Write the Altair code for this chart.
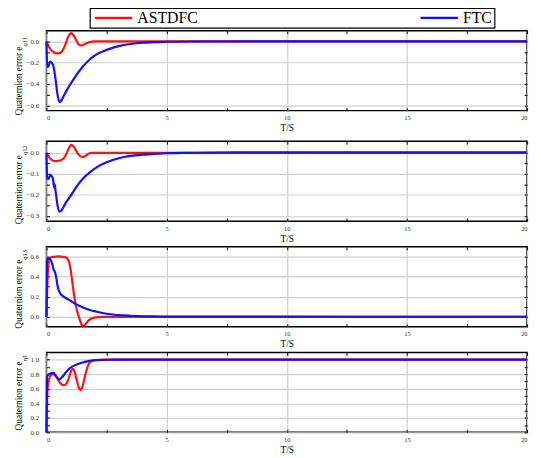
import altair as alt
import pandas as pd

SERIES = ["ASTDFC", "FTC"]
COLORS = ["#ff1010", "#1010ff"]

# ---------------- Panel 1 : e_q11 ----------------
t_astdfc_q11 = [0, 0.1, 0.25, 0.4, 0.5, 0.6, 0.75, 0.9, 1.02, 1.12, 1.25, 1.35, 1.46, 1.6, 1.8, 2.0, 3.0, 20]
v_astdfc_q11 = [0, -0.05, -0.095, -0.11, -0.112, -0.105, -0.05, 0.04, 0.078, 0.06, 0.005, -0.03, -0.038, -0.025, -0.006, 0, 0, 0]
t_ftc_q11 = [0, 0.03, 0.08, 0.16, 0.22, 0.3, 0.38, 0.46, 0.54, 0.62, 0.72, 0.85, 1.0, 1.2, 1.5, 1.8, 2.1, 2.5, 3.0, 3.5, 4.0, 4.5, 5.0, 6.0, 20]
v_ftc_q11 = [0, -0.24, -0.235, -0.19, -0.2, -0.24, -0.36, -0.5, -0.57, -0.555, -0.51, -0.455, -0.4, -0.33, -0.24, -0.17, -0.12, -0.08, -0.045, -0.025, -0.013, -0.007, -0.004, -0.001, 0]

# ---------------- Panel 2 : e_q12 ----------------
t_astdfc_q12 = [0, 0.1, 0.2, 0.37, 0.5, 0.6, 0.7, 0.8, 0.9, 1.03, 1.15, 1.3, 1.49, 1.62, 1.75, 1.87, 2.2, 20]
v_astdfc_q12 = [0, -0.02, -0.033, -0.04, -0.038, -0.035, -0.028, -0.012, 0.014, 0.038, 0.027, -0.003, -0.02, -0.015, -0.004, 0, 0, 0]
t_ftc_q12 = [0, 0.03, 0.08, 0.16, 0.24, 0.28, 0.31, 0.34, 0.37, 0.4, 0.46, 0.55, 0.62, 0.72, 0.85, 1.0, 1.2, 1.5, 1.8, 2.1, 2.5, 3.0, 3.5, 4.0, 4.5, 5.0, 6.0, 8.0, 20]
v_ftc_q12 = [0, -0.12, -0.125, -0.105, -0.115, -0.13, -0.165, -0.15, -0.175, -0.2, -0.25, -0.28, -0.275, -0.255, -0.23, -0.205, -0.17, -0.125, -0.093, -0.068, -0.045, -0.026, -0.015, -0.009, -0.005, -0.002, 0.0, 0.002, 0.002]

# ---------------- Panel 3 : e_q13 ----------------
t_astdfc_q13 = [0, 0.04, 0.08, 0.14, 0.2, 0.3, 0.5, 0.7, 0.8, 0.88, 0.95, 1.02, 1.1, 1.16, 1.27, 1.35, 1.42, 1.5, 1.58, 1.7, 1.85, 2.0, 2.3, 20]
v_astdfc_q13 = [0, 0.35, 0.52, 0.58, 0.595, 0.6, 0.605, 0.6, 0.595, 0.58, 0.54, 0.45, 0.3, 0.2, 0.06, 0.0, -0.055, -0.09, -0.085, -0.05, -0.02, -0.008, -0.002, 0]
t_ftc_q13 = [0, 0.02, 0.08, 0.15, 0.22, 0.3, 0.35, 0.4, 0.46, 0.52, 0.6, 0.7, 0.8, 1.0, 1.2, 1.5, 1.8, 2.1, 2.5, 3.0, 3.5, 4.0, 4.5, 5.0, 6.0, 20]
v_ftc_q13 = [0, 0.56, 0.585, 0.575, 0.545, 0.47, 0.45, 0.4, 0.31, 0.26, 0.225, 0.205, 0.188, 0.16, 0.13, 0.095, 0.068, 0.05, 0.03, 0.017, 0.01, 0.005, 0.003, 0.002, 0.001, 0]

# ---------------- Panel 4 : e_eta1 ----------------
t_astdfc_eta = [0, 0.02, 0.05, 0.1, 0.15, 0.23, 0.3, 0.37, 0.45, 0.57, 0.7, 0.8, 0.9, 0.98, 1.05, 1.1, 1.17, 1.26, 1.34, 1.42, 1.5, 1.6, 1.7, 1.78, 1.9, 2.0, 2.3, 20]
v_astdfc_eta = [0, 0.35, 0.62, 0.72, 0.77, 0.795, 0.8, 0.78, 0.74, 0.68, 0.65, 0.66, 0.72, 0.8, 0.86, 0.875, 0.84, 0.72, 0.62, 0.58, 0.63, 0.77, 0.89, 0.95, 0.985, 0.995, 1.0, 1.0]
t_ftc_eta = [0, 0.02, 0.06, 0.14, 0.22, 0.3, 0.4, 0.5, 0.55, 0.65, 0.75, 0.9, 1.05, 1.2, 1.4, 1.6, 1.8, 2.0, 2.3, 2.6, 3.0, 20]
v_ftc_eta = [0, 0.76, 0.79, 0.805, 0.815, 0.82, 0.77, 0.74, 0.73, 0.76, 0.8, 0.86, 0.9, 0.925, 0.95, 0.97, 0.983, 0.99, 0.996, 0.999, 1.0, 1.0]

X_TICKS = [0, 2.5, 5, 7.5, 10, 12.5, 15, 17.5, 20]
Y1_TICKS = [-0.6, -0.5, -0.4, -0.3, -0.2, -0.1, 0.0]
Y2_TICKS = [-0.3, -0.25, -0.2, -0.15, -0.1, -0.05, 0.0]
Y3_TICKS = [0.0, 0.1, 0.2, 0.3, 0.4, 0.5, 0.6]
Y4_TICKS = [0.0, 0.1, 0.2, 0.3, 0.4, 0.5, 0.6, 0.7, 0.8, 0.9, 1.0]

FONT = "Liberation Serif"
W, H = 487, 81
TICK = {"expr": "-3"}


def make_df(ta, va, tf, vf):
    return pd.DataFrame({
        "t": list(ta) + list(tf),
        "v": list(va) + list(vf),
        "s": [SERIES[0]] * len(ta) + [SERIES[1]] * len(tf),
    })


def major(step):
    return f"abs(datum.value / {step} - round(datum.value / {step})) < 1e-6"


LEGEND = alt.Legend(
    title=None, orient="none", legendX=44, legendY=-23, direction="horizontal",
    symbolType="M-3.8,0H3.8", symbolSize=100, symbolStrokeWidth=2.2, symbolOffset=14,
    labelFont=FONT, labelFontSize=16, labelColor="black", labelOffset=16,
    columnPadding=220, padding=2, strokeColor="black", fillColor="white",
)


def panel(df, ydom, yticks, ystep, sub, sub_y):
    xm = major(5)
    ym = major(ystep)
    xs = alt.Scale(domain=[0, 20], nice=False, zero=False)
    ys = alt.Scale(domain=ydom, nice=False, zero=False)
    x_axis = alt.Axis(
        values=X_TICKS, orient="bottom", title="T/S", titleFont=FONT, titleFontSize=9.5,
        titleFontWeight="normal", titleColor="black", titlePadding=2,
        labelExpr=f"{xm} ? format(datum.value, 'd') : ''", labelFont=FONT, labelFontSize=6.5,
        labelColor="#333", labelPadding=7, tickSize=TICK, tickColor="black", domain=False,
        grid=True, gridColor="#cfcfcf", gridWidth=1.2,
        gridOpacity={"condition": {"test": xm, "value": 1}, "value": 0},
    )
    y_axis = alt.Axis(
        values=yticks, orient="left", title=None,
        labelExpr=f"{ym} ? format(datum.value, '.1f') : ''", labelFont=FONT, labelFontSize=7,
        labelColor="#333", labelPadding=11, tickSize=TICK, tickColor="black", domain=False,
        grid=True, gridColor="#cfcfcf", gridWidth=1.2,
        gridOpacity={"condition": {"test": ym, "value": 1}, "value": 0},
    )
    lines = alt.Chart(df).mark_line(strokeWidth=2.2, interpolate="monotone").encode(
        x=alt.X("t:Q", scale=xs, axis=x_axis),
        y=alt.Y("v:Q", scale=ys, axis=y_axis),
        color=alt.Color("s:N", scale=alt.Scale(domain=SERIES, range=COLORS), legend=LEGEND),
        detail="s:N",
    )
    mirror = alt.Chart(df).mark_point(opacity=0, size=1).encode(
        x=alt.X("t:Q", scale=xs, axis=alt.Axis(values=X_TICKS, orient="top", labels=False, title=None,
                                                grid=False, domain=False, tickSize=TICK, tickColor="black")),
        y=alt.Y("v:Q", scale=ys, axis=alt.Axis(values=yticks, orient="right", labels=False, title=None,
                                                grid=False, domain=False, tickSize=TICK, tickColor="black")),
    )
    main_t = alt.Chart(pd.DataFrame({"txt": ["Quaternion error e"]})).mark_text(
        font=FONT, fontSize=9.5, angle=270, align="right", baseline="middle", color="black"
    ).encode(text="txt:N", x=alt.value(-27.5), y=alt.value(sub_y))
    sub_t = alt.Chart(pd.DataFrame({"txt": [sub]})).mark_text(
        font=FONT, fontSize=6.5, angle=270, align="left", baseline="middle", color="black"
    ).encode(text="txt:N", x=alt.value(-21.5), y=alt.value(sub_y))
    return alt.layer(lines, mirror, main_t, sub_t).resolve_axis(x="independent", y="independent").properties(
        width=W, height=H)


p1 = panel(make_df(t_astdfc_q11, v_astdfc_q11, t_ftc_q11, v_ftc_q11), [-0.65, 0.1], Y1_TICKS, 0.2, "q11", 16)
p2 = panel(make_df(t_astdfc_q12, v_astdfc_q12, t_ftc_q12, v_ftc_q12), [-0.325, 0.055], Y2_TICKS, 0.1, "q12", 14)
p3 = panel(make_df(t_astdfc_q13, v_astdfc_q13, t_ftc_q13, v_ftc_q13), [-0.1, 0.7], Y3_TICKS, 0.2, "q13", 13)
p4 = panel(make_df(t_astdfc_eta, v_astdfc_eta, t_ftc_eta, v_ftc_eta), [0.0, 1.1], Y4_TICKS, 0.2, "η1", 9)

lower = alt.vconcat(p2, p3, p4, spacing=26, bounds="flush")
chart = alt.vconcat(p1, lower, spacing=31, bounds="flush").properties(
    padding={"left": 5, "top": -4, "right": 0, "bottom": 0}
).configure_view(stroke="black", strokeWidth=1.5).configure_legend(strokeWidth=1.2)

chart.save("out.html", embed_options={"renderer": "svg", "actions": False})
